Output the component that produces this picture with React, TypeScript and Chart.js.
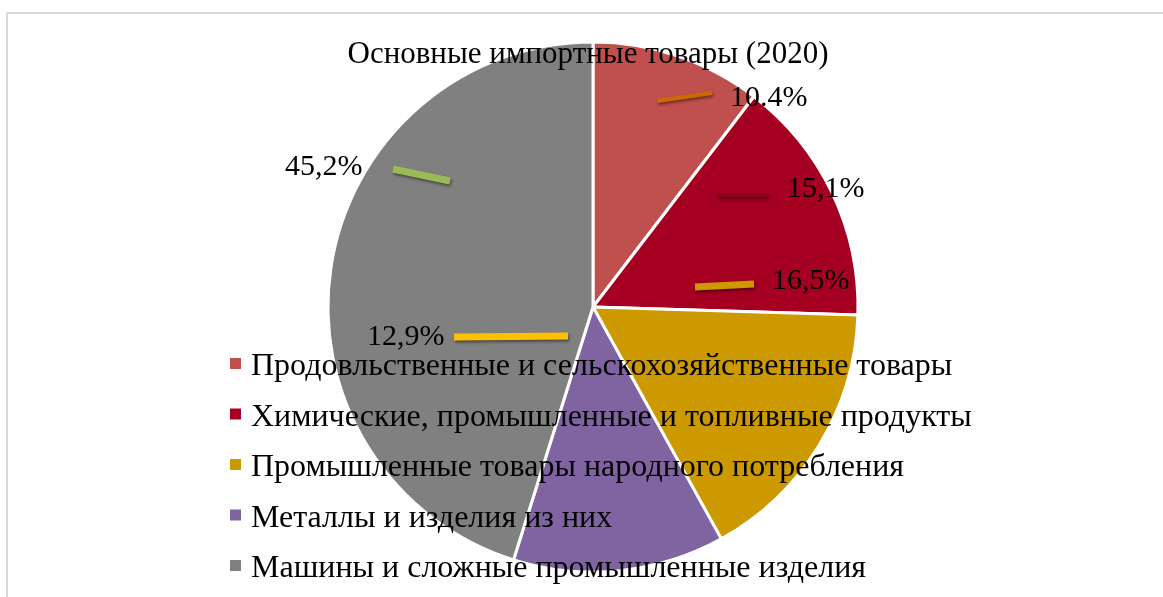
import React, { useEffect, useRef } from "react";
import { Chart, registerables } from "chart.js";

Chart.register(...registerables);

const chartTitle = "Основные импортные товары (2020)";
const categories = [
  "Продовльственные и сельскохозяйственные товары",
  "Химические, промышленные и топливные продукты",
  "Промышленные товары народного потребления",
  "Металлы и изделия из них",
  "Машины и сложные промышленные изделия",
];
const values = [10.4, 15.1, 16.5, 12.9, 45.2];
const valueLabels = ["10.4%", "15,1%", "16,5%", "12,9%", "45,2%"];
const sliceColors = ["#C0504D", "#A50021", "#CC9900", "#8064A2", "#808080"];
const leaderColors = ["#CC6A00", "#8C001C", "#CC9900", "#FFC000", "#9BBB59"];

// layout (pixels at reference radius 265, relative to pie centre)
const REF_R = 265;
const labelOffsets = [
  [137, -201],
  [194, -110],
  [179, -18],
  [-226, 38],
  [-308, -132],
];
const leaderLines = [
  [64, -206, 119, -214, 4],
  [124, -112, 175, -112, 4],
  [102, -20, 161, -23, 7],
  [-139, 30, -25, 29, 7],
  [-200, -138, -143, -126, 7],
];
const FAMILY = "'Liberation Serif', 'Times New Roman', serif";
const LABEL_FONT = "30px " + FAMILY;
const TITLE_FONT = "31px " + FAMILY;
const LEGEND_FONT = "32px " + FAMILY;

const overlayPlugin = {
  id: "overlay",
  beforeDraw(chart: any) {
    const ctx = chart.ctx;
    ctx.save();
    ctx.fillStyle = "#ffffff";
    ctx.fillRect(0, 0, chart.width, chart.height);
    ctx.strokeStyle = "#D9D9D9";
    ctx.lineWidth = 2;
    ctx.strokeRect(7, 13, chart.width + 20, chart.height + 20);
    ctx.restore();
  },
  afterDraw(chart: any) {
    const ctx = chart.ctx;
    const arc = chart.getDatasetMeta(0).data[0];
    if (!arc) return;
    const cx = arc.x;
    const cy = arc.y;
    const s = arc.outerRadius / REF_R;
    ctx.save();
    // leader lines
    leaderLines.forEach((l, i) => {
      ctx.save();
      ctx.shadowColor = "rgba(0,0,0,0.45)";
      ctx.shadowBlur = 3;
      ctx.shadowOffsetX = 1;
      ctx.shadowOffsetY = 2;
      ctx.strokeStyle = leaderColors[i];
      ctx.lineWidth = l[4];
      ctx.lineCap = "butt";
      ctx.beginPath();
      ctx.moveTo(cx + l[0] * s, cy + l[1] * s);
      ctx.lineTo(cx + l[2] * s, cy + l[3] * s);
      ctx.stroke();
      ctx.restore();
    });
    // value labels
    ctx.font = LABEL_FONT;
    ctx.fillStyle = "#000000";
    ctx.textAlign = "left";
    ctx.textBaseline = "alphabetic";
    valueLabels.forEach((t, i) => {
      ctx.fillText(t, cx + labelOffsets[i][0] * s, cy + labelOffsets[i][1] * s);
    });
    // title
    ctx.font = TITLE_FONT;
    ctx.textAlign = "center";
    ctx.fillText(chartTitle, cx - 5 * s, cy - 244 * s);
    // legend
    ctx.font = LEGEND_FONT;
    ctx.textAlign = "left";
    const lx = cx - 363 * s;
    categories.forEach((c, i) => {
      const my = cy + (56.5 + i * 50.5) * s;
      ctx.fillStyle = sliceColors[i];
      ctx.fillRect(lx, my - 5.5, 11, 11);
      ctx.fillStyle = "#000000";
      ctx.fillText(c, lx + 21, my + 11.5);
    });
    ctx.restore();
  },
};

export default function App() {
  const ref = useRef<HTMLCanvasElement | null>(null);
  useEffect(() => {
    if (!ref.current) return;
    const chart = new Chart(ref.current, {
      type: "pie",
      data: {
        labels: categories,
        datasets: [
          {
            data: values,
            backgroundColor: sliceColors,
            borderColor: "#ffffff",
            borderWidth: 3,
          },
        ],
      },
      options: {
        animation: false,
        responsive: false,
        radius: 265,
        layout: { padding: { top: 42, bottom: 25, left: 23, right: 0 } },
        plugins: {
          legend: { display: false },
          title: { display: false },
          tooltip: { enabled: false },
        },
      } as any,
      plugins: [overlayPlugin],
    });
    return () => chart.destroy();
  }, []);
  return (
    <div style={{ position: "fixed", left: 0, top: 0, width: 1163, height: 597, background: "#fff" }}>
      <canvas ref={ref} width={1163} height={597} style={{ display: "block" }} />
    </div>
  );
}
